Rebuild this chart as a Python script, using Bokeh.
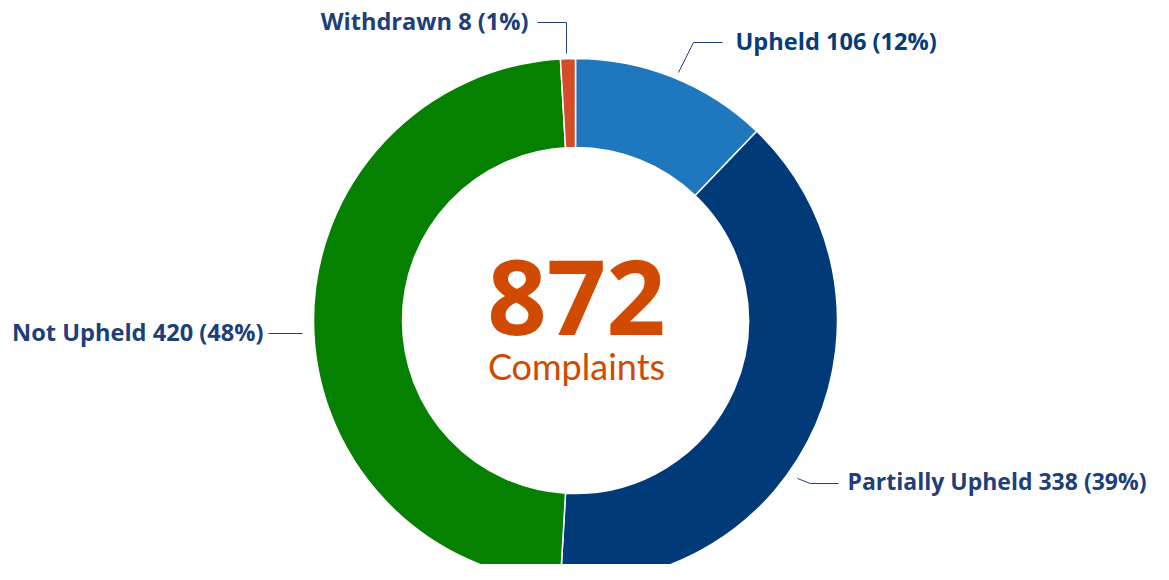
import math
from bokeh.plotting import figure
from bokeh.models import ColumnDataSource
from bokeh.core.properties import value
from bokeh.embed import file_html
from bokeh.resources import INLINE

categories = ["Upheld", "Partially Upheld", "Not Upheld", "Withdrawn"]
counts = [106, 338, 420, 8]
percents = [12, 39, 48, 1]
colors = ["#1f77bd", "#003a78", "#058000", "#d44c28"]
label_colors = ["#063c7a", "#203f78", "#203f78", "#203f78"]
total_label = "872"
total_caption = "Complaints"

W, H = 1153, 564
FONT = "Open Sans"
LINE_COLOR = "#203f78"
CENTER_COLOR = "#d14a02"


def px(x, y):
    # picture pixel -> data coordinate
    return x, H - y


p = figure(width=W, height=H, x_range=(0, W), y_range=(0, H),
           output_backend="svg", toolbar_location=None, min_border=0)
p.axis.visible = False
p.grid.visible = False
p.outline_line_color = None
p.background_fill_color = "white"

cx, cy = px(575, 320)
r_out, r_in = 262, 173

total = sum(counts)
starts, ends = [], []
acc = 0.0
for c in counts:
    a0 = math.pi / 2 - 2 * math.pi * acc / total
    acc += c
    a1 = math.pi / 2 - 2 * math.pi * acc / total
    starts.append(a0)
    ends.append(a1)

src = ColumnDataSource(dict(cat=categories, start=starts, end=ends, color=colors,
                            x=[cx] * 4, y=[cy] * 4))
p.annular_wedge(x="x", y="y", inner_radius=r_in, outer_radius=r_out,
                start_angle="start", end_angle="end", direction="clock",
                fill_color="color", line_color="white", line_width=1.5, source=src)

# leader lines (layout, picture pixels)
leaders = [
    [(678, 72), (693, 42), (722, 42)],
    [(797, 478), (810, 483), (838, 483)],
    [(302, 333), (268, 333)],
    [(566, 53), (566, 22), (537, 22)],
]
label_pos = [(735, 40, "left"), (847, 480, "left"), (263, 331, "right"), (528, 20, "right")]
label_sizes = ["23.6px", "23px", "23.6px", "23.6px"]

for pts in leaders:
    xs = [px(a, b)[0] for a, b in pts]
    ys = [px(a, b)[1] for a, b in pts]
    p.line(xs, ys, line_color=LINE_COLOR, line_width=1)

for cat, n, pc, col, fs, (lx, ly, al) in zip(categories, counts, percents, label_colors,
                                               label_sizes, label_pos):
    x, y = px(lx, ly)
    p.text(x=[x], y=[y], text=[f"{cat} {n} ({pc}%)"], text_align=al,
           text_baseline="middle", text_font=value(FONT), text_font_style="bold",
           text_font_size=fs, text_color=col)

x, y = px(576, 297)
p.text(x=[x], y=[y], text=[total_label], text_align="center", text_baseline="middle",
       text_font=value(FONT), text_font_style="bold", text_font_size="104px",
       text_color=CENTER_COLOR)
x, y = px(576, 365)
p.text(x=[x], y=[y], text=[total_caption], text_align="center", text_baseline="middle",
       text_font=value("Lato"), text_font_size="36px", text_color=CENTER_COLOR)

open("out.html", "w").write(file_html(p, INLINE))
